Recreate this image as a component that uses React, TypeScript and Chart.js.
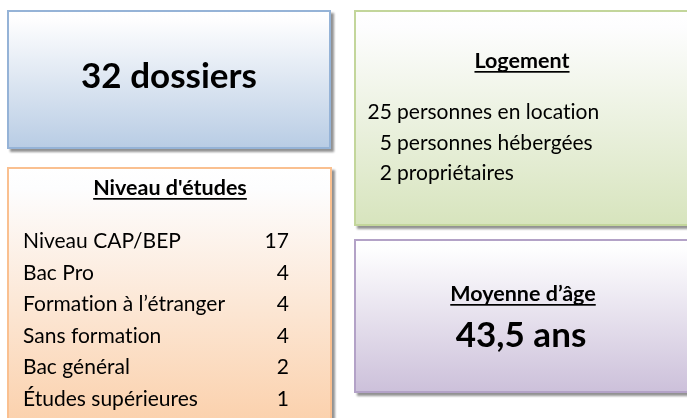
import React, { useEffect, useRef } from "react";
import { Chart, registerables } from "chart.js";

Chart.register(...registerables);

// ---- Data ----
const totalDossiers = 32;
const totalUnit = "dossiers";

const educationTitle = "Niveau d'études";
const educationLabels = [
  "Niveau CAP/BEP",
  "Bac Pro",
  "Formation à l’étranger",
  "Sans formation",
  "Bac général",
  "Études supérieures",
];
const educationCounts = [17, 4, 4, 4, 2, 1];

const housingTitle = "Logement";
const housingCounts = [25, 5, 2];
const housingLabels = ["personnes en location", "personnes hébergées", "propriétaires"];

const ageTitle = "Moyenne d’âge";
const averageAge = "43,5";
const ageUnit = "ans";

const FONT = "Lato, Carlito, Calibri, 'DejaVu Sans', sans-serif";

type Panel = {
  x: number;
  y: number;
  w: number;
  h: number;
  bottom: string;
  border: string;
};

function drawPanel(ctx: CanvasRenderingContext2D, p: Panel) {
  ctx.save();
  ctx.fillStyle = "rgba(110,110,110,0.75)";
  ctx.filter = "blur(0.8px)";
  ctx.fillRect(p.x + 3, p.y + 3, p.w, p.h);
  ctx.filter = "none";
  const g = ctx.createLinearGradient(0, p.y, 0, p.y + p.h);
  g.addColorStop(0, "#ffffff");
  g.addColorStop(0.08, "#fdfdfe");
  g.addColorStop(1, p.bottom);
  ctx.fillStyle = g;
  ctx.fillRect(p.x, p.y, p.w, p.h);
  ctx.strokeStyle = p.border;
  ctx.lineWidth = 2;
  ctx.strokeRect(p.x + 1, p.y + 1, p.w - 2, p.h - 2);
  ctx.restore();
}

function text(
  ctx: CanvasRenderingContext2D,
  s: string,
  x: number,
  y: number,
  size: number,
  bold: boolean,
  align: CanvasTextAlign,
  underline = false
) {
  ctx.font = `${bold ? "bold " : ""}${size}px ${FONT}`;
  const c: any = ctx;
  try {
    c.letterSpacing = "0.01px";
    c.textRendering = "optimizeSpeed";
  } catch (e) {}
  ctx.textAlign = align;
  ctx.textBaseline = "alphabetic";
  ctx.fillStyle = "#000000";
  ctx.fillText(s, x, y);
  if (underline) {
    const w = ctx.measureText(s).width;
    let x0 = x;
    if (align === "center") x0 = x - w / 2;
    else if (align === "right") x0 = x - w;
    ctx.fillRect(x0, y + 3, w, 1.7);
  }
}

const infographicPlugin = {
  id: "infographic",
  afterDraw(chart: any) {
    const ctx: CanvasRenderingContext2D = chart.ctx;
    ctx.save();
    ctx.fillStyle = "#ffffff";
    ctx.fillRect(0, 0, chart.width, chart.height);

    const blue: Panel = { x: 7, y: 10, w: 324, h: 139, bottom: "#b8cce4", border: "#95b3d7" };
    const orange: Panel = { x: 7, y: 167, w: 325, h: 265, bottom: "#fbcfa9", border: "#fac090" };
    const green: Panel = { x: 354, y: 10, w: 345, h: 216, bottom: "#d7e4bd", border: "#c3d69b" };
    const purple: Panel = { x: 354, y: 239, w: 345, h: 154, bottom: "#ccc0da", border: "#b3a2c7" };
    [blue, orange, green, purple].forEach((p) => drawPanel(ctx, p));

    // Total dossiers
    text(ctx, `${totalDossiers} ${totalUnit}`, 169, 88, 35, true, "center");

    // Education
    text(ctx, educationTitle, 170, 195, 21.5, true, "center", true);
    educationLabels.forEach((lab, i) => {
      const y = 248 + i * 31.6;
      text(ctx, lab, 23, y, 21, false, "left");
      text(ctx, String(educationCounts[i]), 289, y, 21, false, "right");
    });

    // Housing
    text(ctx, housingTitle, 522, 68, 21.5, true, "center", true);
    housingLabels.forEach((lab, i) => {
      const y = 119 + i * 30.5;
      text(ctx, String(housingCounts[i]), 392, y, 21, false, "right");
      text(ctx, lab, 397, y, 21, false, "left");
    });

    // Age
    text(ctx, ageTitle, 523, 301, 21.5, true, "center", true);
    text(ctx, `${averageAge} ${ageUnit}`, 521, 347, 35, true, "center");
    ctx.restore();
  },
};

export default function App() {
  const ref = useRef<HTMLCanvasElement | null>(null);
  useEffect(() => {
    if (!ref.current) return;
    const chart = new Chart(ref.current, {
      type: "scatter",
      data: { datasets: [] },
      options: {
        animation: false,
        responsive: false,
        devicePixelRatio: 1,
        layout: { padding: 0 },
        plugins: { legend: { display: false }, tooltip: { enabled: false } },
        scales: {
          x: { display: false, min: 0, max: 687 },
          y: { display: false, min: 0, max: 418 },
        },
      },
      plugins: [infographicPlugin],
    });
    return () => chart.destroy();
  }, []);
  return (
    <div style={{ position: "fixed", left: 0, top: 0, width: 687, height: 418, background: "#fff" }}>
      <canvas ref={ref} width={687} height={418} style={{ width: 687, height: 418, display: "block" }} />
    </div>
  );
}
